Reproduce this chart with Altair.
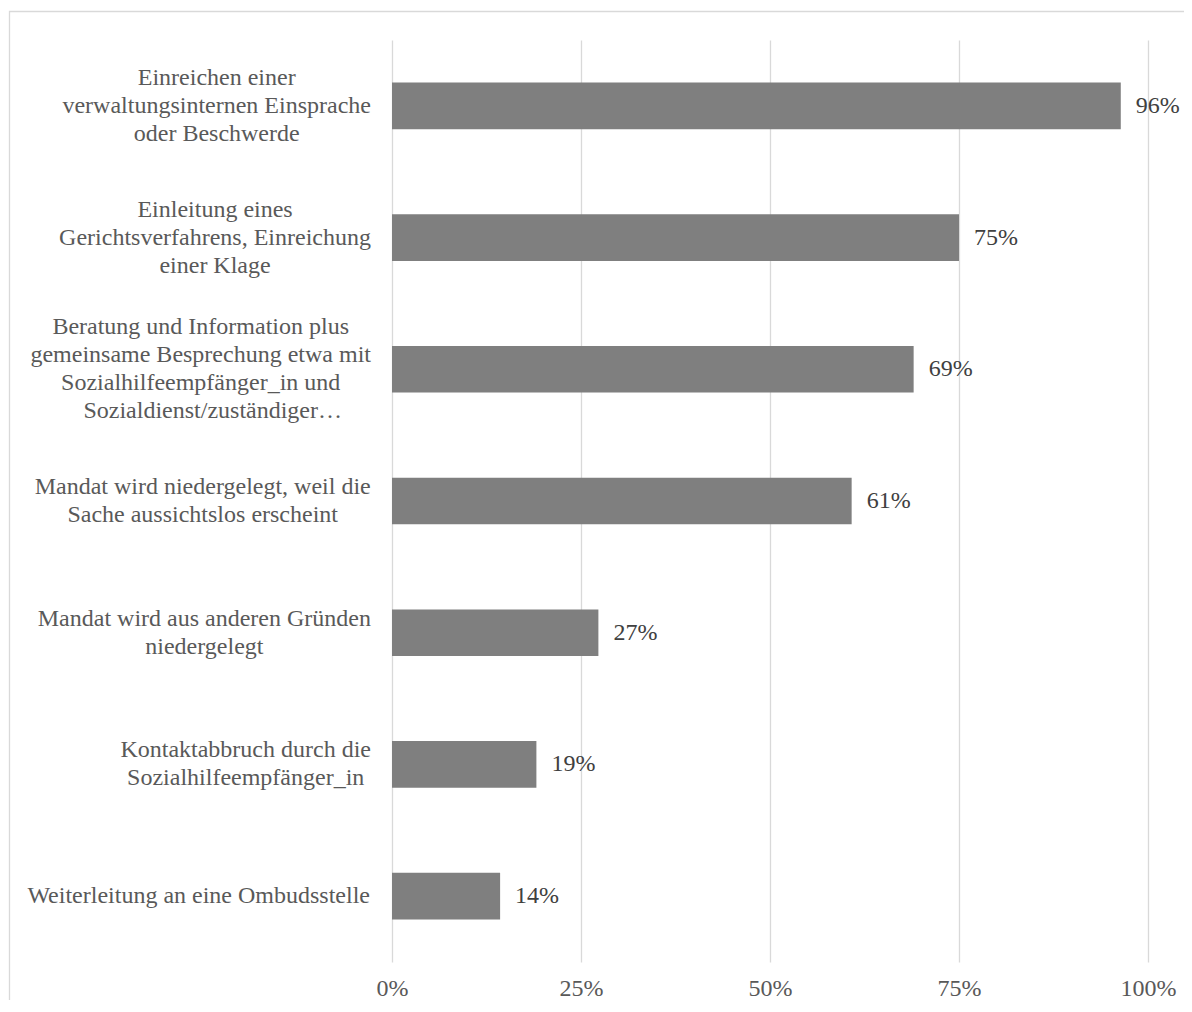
import altair as alt
import pandas as pd

# ---- data ----
categories = [
    "Einreichen einer\nverwaltungsinternen Einsprache\noder Beschwerde",
    "Einleitung eines\nGerichtsverfahrens, Einreichung\neiner Klage",
    "Beratung und Information plus\ngemeinsame Besprechung etwa mit\nSozialhilfeempfänger_in und\n\u200b\u00a0\u00a0\u00a0\u00a0Sozialdienst/zuständiger…",
    "Mandat wird niedergelegt, weil die\nSache aussichtslos erscheint",
    "Mandat wird aus anderen Gründen\nniedergelegt",
    "Kontaktabbruch durch die\nSozialhilfeempfänger_in",
    "Weiterleitung an eine Ombudsstelle",
]
values = [96.4, 75.0, 69.0, 60.8, 27.3, 19.1, 14.3]
tick_values = [0, 0.25, 0.5, 0.75, 1.0]

# ---- styling ----
FONT = "Liberation Serif"
FONT_SIZE = 24
LINE_H = 28
PLOT_W = 756
PLOT_H = 922
LABEL_GAP = 21
BAR_COLOR = "#7f7f7f"
GRID_COLOR = "#d9d9d9"
AXIS_TEXT = "#595959"
VALUE_TEXT = "#404040"

# Times-compatible advance widths (per 1000 em) to centre multi-line labels
_W = {" ": 250, "\u00a0": 250, "\u200b": 0, ",": 250, ".": 250, "/": 278, "_": 500, "…": 1000,
      "-": 333, "ä": 444, "ü": 500, "%": 833}
_W.update({c: w for c, w in zip("abcdefghijklmnopqrstuvwxyz",
                                 [444, 500, 444, 500, 444, 333, 500, 500, 278, 278, 500, 278, 778,
                                  500, 500, 500, 500, 333, 389, 278, 500, 500, 722, 500, 500, 444])})
_W.update({c: w for c, w in zip("ABCDEFGHIJKLMNOPQRSTUVWXYZ",
                                 [722, 667, 667, 722, 611, 556, 722, 722, 333, 389, 722, 611, 889,
                                  722, 722, 556, 722, 667, 556, 611, 722, 722, 944, 722, 722, 611])})


def block_width(label):
    return max(sum(_W.get(ch, 500) for ch in line) for line in label.split("\n")) * FONT_SIZE / 1000


df = pd.DataFrame({
    "key": [f"c{i}" for i in range(len(categories))],
    "label": categories,
    "share": [v / 100 for v in values],
    "text": [f"{round(v)}%" for v in values],
    "nlines": [l.count("\n") + 1 for l in categories],
})
df["lx"] = [-(LABEL_GAP + block_width(l) / 2) / PLOT_W for l in categories]

order = list(df["key"])
y_enc = alt.Y("key:N", sort=order, axis=None,
              scale=alt.Scale(paddingInner=0.646, paddingOuter=0.323))
x_scale = alt.Scale(domain=[0, 1], nice=False)

base = alt.Chart(df)

bars = base.mark_bar(color=BAR_COLOR).encode(
    x=alt.X("share:Q", scale=x_scale,
            axis=alt.Axis(values=tick_values, format=".0%", title=None,
                          grid=True, gridColor=GRID_COLOR, gridWidth=1.3,
                          domain=False, ticks=False, tickSize=0, labelFlush=False,
                          labelFont=FONT, labelFontSize=FONT_SIZE, labelColor=AXIS_TEXT,
                          labelPadding=14)),
    y=y_enc,
)

value_labels = base.mark_text(
    align="left", baseline="middle", dx=15,
    font=FONT, fontSize=FONT_SIZE, color=VALUE_TEXT,
).encode(
    x=alt.X("share:Q", scale=x_scale),
    y=y_enc,
    text="text:N",
)

# one layer per line count so each multi-line block is centred on its bar
label_layers = []
for n in sorted(set(df["nlines"])):
    label_layers.append(
        base.transform_filter(alt.datum.nlines == n).mark_text(
            align="center", baseline="middle", lineBreak="\n", lineHeight=LINE_H,
            dy=-(n - 1) * LINE_H / 2,
            font=FONT, fontSize=FONT_SIZE, color=AXIS_TEXT,
        ).encode(
            x=alt.X("lx:Q", scale=x_scale),
            y=y_enc,
            text="label:N",
        )
    )

border = alt.Chart(pd.DataFrame({"b": [0]})).mark_rect(
    fill=None, stroke=GRID_COLOR, strokeWidth=1.3
).encode(
    x=alt.value(-382.5), x2=alt.value(PLOT_W + 200),
    y=alt.value(-28.5), y2=alt.value(PLOT_H + 200),
)

chart = alt.layer(border, bars, value_labels, *label_layers).properties(
    width=PLOT_W, height=PLOT_H,
    autosize=alt.AutoSizeParams(type="none"),
    padding={"left": 384, "top": 32, "right": 36, "bottom": 38},
    background="white",
).configure_view(stroke=None)

chart.save("out.html", embed_options={"renderer": "svg", "actions": False})
